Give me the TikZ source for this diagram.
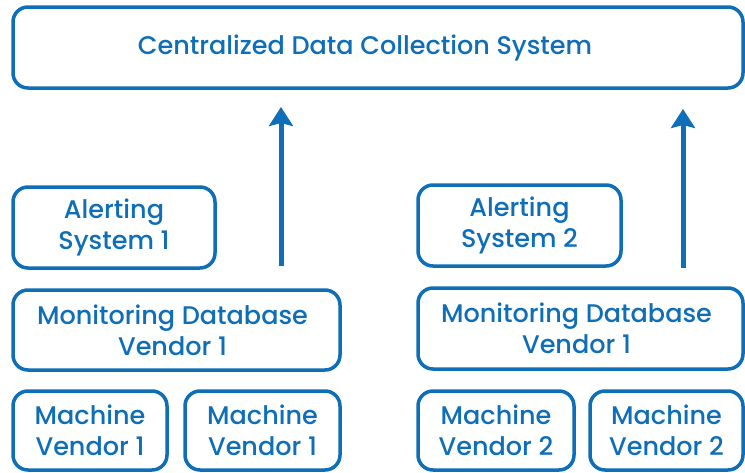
\documentclass[tikz,border=0pt]{standalone}
\usepackage{fontspec}
\setmainfont{Poppins}[UprightFont={Poppins Medium}]
\usetikzlibrary{arrows.meta}
\definecolor{brand}{RGB}{14,110,184}
\tikzset{
  box/.style={draw=brand, line width=3.5pt, rounded corners=15pt, text=brand,
    inner sep=0pt, align=center, font=\fontsize{25.5}{31}\selectfont},
  uparrow/.style={draw=brand, line width=5pt,
    -{Stealth[length=19pt,width=24pt,inset=3pt]}}
}
\newcommand{\boxat}[6]{% name, x1, y1, x2, y2, text
  \node[box, minimum width=#4-#2, minimum height=#5-#3]
    (#1) at ({(#2+#4)/2},{(#3+#5)/2}) {#6};}
% text set a little left of the box centre
\newcommand{\leftby}[2]{\hspace*{-#1}#2}
\begin{document}
\begin{tikzpicture}[x=1pt,y=-1pt]
\useasboundingbox (0,0) rectangle (745,472);
\fill[white] (0,0) rectangle (745,472);

\boxat{central}{13}{7}{743}{88}{\leftby{26pt}{Centralized Data Collection System}}

\boxat{alert1}{13}{187}{215}{268}{Alerting\\System 1}
\boxat{alert2}{418}{185}{621}{266}{Alerting\\System 2}

\boxat{mon1}{13}{290}{340}{370}{\leftby{8pt}{Monitoring Database}\\\leftby{8pt}{Vendor 1}}
\boxat{mon2}{418}{288}{743}{369}{\leftby{8pt}{Monitoring Database}\\\leftby{8pt}{Vendor 1}}

\boxat{mach1}{13}{391}{167}{470}{Machine\\Vendor 1}
\boxat{mach2}{185}{391}{340}{470}{Machine\\Vendor 1}
\boxat{mach3}{418}{391}{574}{470}{Machine\\Vendor 2}
\boxat{mach4}{590}{391}{743}{470}{Machine\\Vendor 2}

% feeds into the central system
\coordinate (tip1) at (281,107);
\coordinate (tip2) at (683,109);
\draw[uparrow] (281,266) -- (tip1);
\draw[uparrow] (683,268) -- (tip2);
\end{tikzpicture}
\end{document}
